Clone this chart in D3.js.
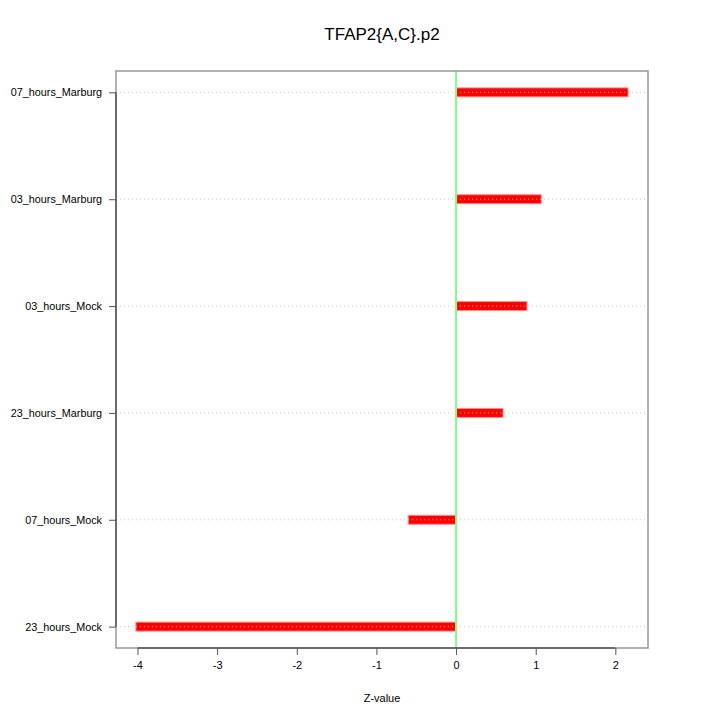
<!DOCTYPE html>
<html>
<head>
<meta charset="utf-8">
<script src="https://cdn.jsdelivr.net/npm/d3@7"></script>
<style>
  body { margin: 0; background: #fff; }
  text { font-family: "Liberation Sans", Arial, sans-serif; }
</style>
</head>
<body>
<script>
// chart data, bottom to top as drawn
var categories = ['23_hours_Mock', '07_hours_Mock', '23_hours_Marburg', '03_hours_Mock', '03_hours_Marburg', '07_hours_Marburg']
var zvalues = [-4.02, -0.60, 0.59, 0.89, 1.07, 2.16]
var xTicks = [-4, -3, -2, -1, 0, 1, 2]

var margin = {left: 116, top: 71, right: 648, bottom: 648}

var svg = d3.select('body').append('svg')
    .attr('width', 720).attr('height', 720)

var x = d3.scaleLinear().domain([-4.27, 2.41]).range([margin.left, margin.right])
// categories sit at 1..n, R pads the range by 4%
var y = d3.scaleLinear().domain([0.8, categories.length + 0.2]).range([margin.bottom, margin.top])

// dotted grid lines
svg.selectAll('.grid').data(categories).enter().append('line')
    .attr('class', 'grid')
    .attr('x1', margin.left).attr('x2', margin.right)
    .attr('y1', function(d, i){ return y(i + 1) })
    .attr('y2', function(d, i){ return y(i + 1) })
    .attr('stroke', '#c8c8c8').attr('stroke-width', 1)
    .attr('stroke-dasharray', '1,3')

// bars
svg.selectAll('.bar').data(zvalues).enter().append('rect')
    .attr('class', 'bar')
    .attr('x', function(d){ return Math.min(x(0), x(d)) })
    .attr('width', function(d){ return Math.abs(x(d) - x(0)) })
    .attr('y', function(d, i){ return y(i + 1) - 4.5 })
    .attr('height', 9)
    .attr('fill', '#ff0000')
    .attr('stroke', '#ff9090').attr('stroke-width', 1)

svg.selectAll('.bardot').data(zvalues).enter().append('line')
    .attr('class', 'bardot')
    .attr('x1', function(d){ return Math.min(x(0), x(d)) })
    .attr('x2', function(d){ return Math.max(x(0), x(d)) })
    .attr('y1', function(d, i){ return y(i + 1) })
    .attr('y2', function(d, i){ return y(i + 1) })
    .attr('stroke', '#ffb0b0').attr('stroke-width', 1)
    .attr('stroke-dasharray', '1,3')

// zero line
svg.append('line')
    .attr('x1', x(0)).attr('x2', x(0))
    .attr('y1', margin.top).attr('y2', margin.bottom)
    .attr('stroke', '#80ff80').attr('stroke-width', 2)

// box
svg.append('rect')
    .attr('x', margin.left).attr('y', margin.top)
    .attr('width', margin.right - margin.left).attr('height', margin.bottom - margin.top)
    .attr('fill', 'none').attr('stroke', '#999').attr('stroke-width', 1.5)

// axes
var xAxis = d3.axisBottom(x).tickValues(xTicks).tickSize(7).tickPadding(6)
    .tickFormat(function(d){ return String(d) })
var gx = svg.append('g').attr('transform', 'translate(0,' + margin.bottom + ')').call(xAxis)
gx.select('.domain').remove()
gx.append('line')
    .attr('x1', x(xTicks[0])).attr('x2', x(xTicks[xTicks.length - 1]))
    .attr('stroke', '#555').attr('stroke-width', 1.5)
gx.selectAll('.tick line').attr('stroke', '#555')
gx.selectAll('text').attr('font-size', 11).attr('fill', '#000')
    .style('font-family', '"Liberation Sans", Arial, sans-serif')

var yAxis = d3.axisLeft(y).tickValues(d3.range(1, categories.length + 1))
    .tickFormat(function(d){ return categories[d - 1] }).tickSize(7).tickPadding(7)
var gy = svg.append('g').attr('transform', 'translate(' + margin.left + ',0)').call(yAxis)
gy.select('.domain').remove()
gy.append('line')
    .attr('y1', y(1)).attr('y2', y(categories.length))
    .attr('stroke', '#555').attr('stroke-width', 1.5)
gy.selectAll('.tick line').attr('stroke', '#555')
gy.selectAll('text').attr('font-size', 10.8).attr('fill', '#000')
    .style('font-family', '"Liberation Sans", Arial, sans-serif')

// title and axis label
svg.append('text')
    .attr('x', 382).attr('y', 40)
    .attr('text-anchor', 'middle').attr('font-size', 17)
    .text('TFAP2{A,C}.p2')

svg.append('text')
    .attr('x', 382).attr('y', 702)
    .attr('text-anchor', 'middle').attr('font-size', 11)
    .text('Z-value')
</script>
</body>
</html>
